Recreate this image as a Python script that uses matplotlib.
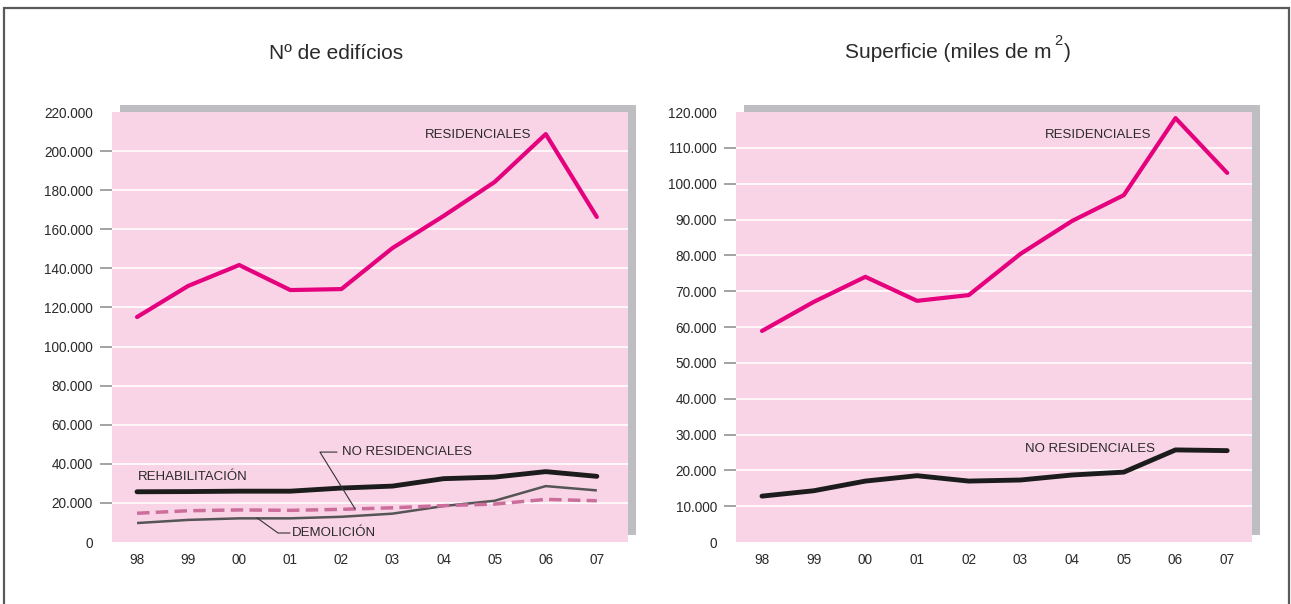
import matplotlib
matplotlib.use("Agg")
import matplotlib.pyplot as plt
from matplotlib.patches import Rectangle
from matplotlib.ticker import FuncFormatter

# ---- data ----
years = ["98", "99", "00", "01", "02", "03", "04", "05", "06", "07"]

edif_residenciales = [115100, 131000, 141700, 128900, 129400, 150400, 166800, 184200, 208700, 166300]
edif_rehabilitacion = [25700, 25800, 26000, 26000, 27600, 28600, 32400, 33200, 36000, 33600]
edif_no_residenciales = [14700, 16000, 16400, 16200, 16700, 17500, 18600, 19400, 21800, 21100]
edif_demolicion = [9700, 11300, 12100, 12100, 12900, 14500, 18400, 21100, 28600, 26400]

sup_residenciales = [58900, 67000, 74000, 67300, 68900, 80400, 89600, 96800, 118300, 103000]
sup_no_residenciales = [12800, 14300, 17000, 18500, 17000, 17300, 18700, 19500, 25700, 25500]

left_yticks = list(range(0, 220001, 20000))
right_yticks = list(range(0, 120001, 10000))

# ---- style ----
PINK = "#F9D4E6"
SHADOW = "#BEBEC2"
MAGENTA = "#E5007D"
BLACK = "#1C1C1C"
MAUVE = "#CC6E9C"
GREY = "#555555"
TXT = "#2A2A2A"
TICKFONT = ["Liberation Sans", "DejaVu Sans"]
LBLFONT = ["Liberation Sans", "DejaVu Sans"]

W, H = 1291, 604
fig = plt.figure(figsize=(W / 100, H / 100), dpi=100)

def px_rect(x0, y0, x1, y1):
    # pixel coords (top-left origin) -> figure fraction [l, b, w, h]
    return [x0 / W, 1 - y1 / H, (x1 - x0) / W, (y1 - y0) / H]

# outer frame (open at bottom)
frame = Rectangle((4 / W, -0.05), (1289 - 4) / W, 1.05 - 8 / H,
                  transform=fig.transFigure, fill=False,
                  edgecolor="#5A5A5A", linewidth=1.6, zorder=-2)
fig.patches.append(frame)

def fmt(v, pos):
    v = int(round(v))
    return "0" if v == 0 else f"{v:,}".replace(",", ".")

def make_axes(box, xlim, yticks):
    x0, y0, x1, y1 = box
    # shadow
    l, b, w, h = px_rect(x0 + 8, y0 - 7, x1 + 8, y1 - 7)
    fig.patches.append(Rectangle((l, b), w, h, transform=fig.transFigure,
                                 facecolor=SHADOW, edgecolor="none", zorder=-1))
    ax = fig.add_axes(px_rect(x0, y0, x1, y1))
    ax.set_facecolor(PINK)
    for s in ax.spines.values():
        s.set_visible(False)
    ax.set_xlim(*xlim)
    ax.set_ylim(yticks[0], yticks[-1])
    ax.set_yticks(yticks)
    ax.yaxis.set_major_formatter(FuncFormatter(fmt))
    ax.set_xticks(range(len(years)))
    ax.set_xticklabels(years)
    ax.tick_params(axis="x", length=0, pad=8, labelsize=9.8, labelcolor=TXT)
    ax.tick_params(axis="y", length=8.6, width=1.1, color="#8A8A8A", pad=5,
                   labelsize=9.8, labelcolor=TXT)
    for lab in ax.get_xticklabels() + ax.get_yticklabels():
        lab.set_family(TICKFONT)
    for v in yticks[1:-1]:
        ax.axhline(v, color="white", lw=1.2, zorder=1)
    ticks = ax.yaxis.get_major_ticks()
    ticks[0].tick1line.set_visible(False)
    ticks[-1].tick1line.set_visible(False)
    return ax

x = list(range(len(years)))

# ---- left panel ----
axL = make_axes((112, 112, 628, 542), (-0.49, 9.61), left_yticks)
axL.plot(x, edif_demolicion, color=GREY, lw=1.8, zorder=3, solid_capstyle="butt")
axL.plot(x, edif_no_residenciales, color=MAUVE, lw=2.5, dashes=(3.6, 1.8), zorder=3)
axL.plot(x, edif_rehabilitacion, color=BLACK, lw=3.5, zorder=4, solid_capstyle="round")
axL.plot(x, edif_residenciales, color=MAGENTA, lw=3.0, zorder=4, solid_capstyle="round")

lk = dict(fontsize=9.5, color=TXT, family=LBLFONT, va="center", ha="left", zorder=5)
axL.text(5.64, 208200, "RESIDENCIALES", **lk)
axL.text(0.02, 33250, "REHABILITACIÓN", **lk)
axL.text(4.01, 46000, "NO RESIDENCIALES", **lk)
axL.text(3.03, 4600, "DEMOLICIÓN", **lk)
axL.plot([3.91, 3.58, 4.27], [46000, 46000, 16900], color="#333333", lw=0.8, zorder=5)
axL.plot([2.35, 2.76, 2.99], [12300, 4600, 4600], color="#333333", lw=0.8, zorder=5)

# ---- right panel ----
axR = make_axes((736, 112, 1252, 542), (-0.503, 9.48), right_yticks)
axR.plot(x, sup_no_residenciales, color=BLACK, lw=3.5, zorder=4, solid_capstyle="round")
axR.plot(x, sup_residenciales, color=MAGENTA, lw=3.0, zorder=4, solid_capstyle="round")
axR.text(5.48, 113600, "RESIDENCIALES", **lk)
axR.text(5.09, 25950, "NO RESIDENCIALES", **lk)

# ---- titles ----
tk = dict(fontsize=15, color=TXT, family=LBLFONT, va="baseline")
fig.text(336 / W, 1 - 59 / H, "Nº de edifícios", ha="center", **tk)

t1 = fig.text(845 / W, 1 - 58 / H, "Superficie (miles de m", ha="left", **tk)
renderer = fig.canvas.get_renderer()
ext = t1.get_window_extent(renderer=renderer)
x_end = ext.x1 / W
t2 = fig.text(x_end + 3 / W, 1 - 45 / H, "2", ha="left", fontsize=10.5,
              color=TXT, family=LBLFONT, va="baseline")
ext2 = t2.get_window_extent(renderer=renderer)
fig.text(ext2.x1 / W + 1 / W, 1 - 58 / H, ")", ha="left", **tk)

fig.savefig("out.png", dpi=100)
